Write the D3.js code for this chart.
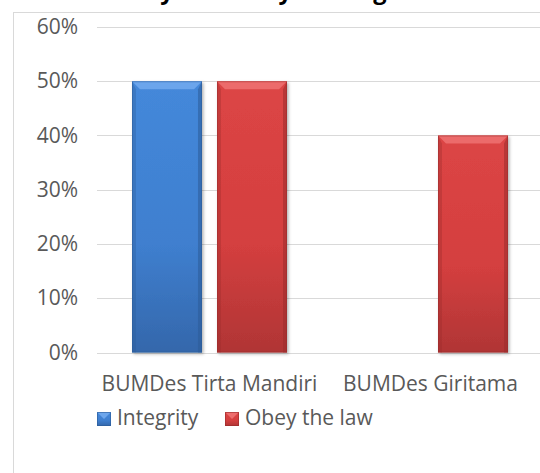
<!DOCTYPE html>
<html>
<head>
<meta charset="utf-8">
<script src="https://cdn.jsdelivr.net/npm/d3@7"></script>
<style>
  html, body { margin: 0; padding: 0; background: #fff; overflow: hidden; }
  svg { display: block; font-family: "Open Sans", "DejaVu Sans", sans-serif; }
</style>
</head>
<body>
<svg id="chart" width="540" height="473"></svg>
<script>
// data
const categories = ["BUMDes Tirta Mandiri", "BUMDes Giritama"];
const seriesNames = ["Integrity", "Obey the law"];
const integrity = [0.5, null];
const obeyLaw = [0.5, 0.4];
const yTicks = [0, 0.1, 0.2, 0.3, 0.4, 0.5, 0.6];
const title = "Honesty and Obey the Regulations";

const COLORS = {
  "Integrity":    { top: "#4488da", mid: "#3f7fcf", bot: "#3467ab", light: "#72aaee", dark: "#2c5b98" },
  "Obey the law": { top: "#dc4545", mid: "#d43f3f", bot: "#b03535", light: "#ee7272", dark: "#9a2c2c" }
};

const svg = d3.select("#chart");
const W = 540, H = 473;
const FS = 21;
const plot = { left: 99, right: 541, top: 27, bottom: 352.5 };

// chart area frame (runs off the window on the right and bottom)
svg.append("rect")
  .attr("x", 13.5).attr("y", 12.5).attr("width", 600).attr("height", 600)
  .attr("fill", "#fff").attr("stroke", "#d9d9d9").attr("stroke-width", 1);

// title: in the reference only its descenders reach into the window
const tt = svg.append("text")
  .attr("x", 0).attr("y", -1)
  .attr("font-size", 24).attr("font-weight", "bold").attr("fill", "#000")
  .text(title);
{
  const node = tt.node();
  const mid = i => { const e = node.getExtentOfChar(i); return e.x + e.width / 2; };
  const i1 = title.indexOf("y"), i3 = title.indexOf("g");
  const k = (380 - 167) / (mid(i3) - mid(i1));
  tt.attr("font-size", 24 * k);
  tt.attr("x", 167 - mid(i1));
}

const y = d3.scaleLinear().domain([0, 0.6]).range([plot.bottom, plot.top]);
const x0 = d3.scaleBand().domain(categories).range([plot.left, plot.right]).padding(0);
const x1 = d3.scaleBand().domain(seriesNames).range([33, 188]).paddingInner(0.1765).paddingOuter(0);

// gradients + shadow
const defs = svg.append("defs");
seriesNames.forEach((s, i) => {
  const g = defs.append("linearGradient").attr("id", "grad" + i)
    .attr("x1", 0).attr("y1", 0).attr("x2", 0).attr("y2", 1);
  g.append("stop").attr("offset", "0%").attr("stop-color", COLORS[s].top);
  g.append("stop").attr("offset", "60%").attr("stop-color", COLORS[s].mid);
  g.append("stop").attr("offset", "100%").attr("stop-color", COLORS[s].bot);
});
const shadow = defs.append("filter").attr("id", "shadow")
  .attr("x", "-20%").attr("y", "-20%").attr("width", "140%").attr("height", "140%");
shadow.append("feDropShadow").attr("dx", 1.5).attr("dy", 1.5).attr("stdDeviation", 1.5)
  .attr("flood-color", "#000").attr("flood-opacity", 0.3);

// gridlines
svg.append("g").selectAll("line")
  .data(yTicks).join("line")
  .attr("x1", plot.left - 2).attr("x2", W)
  .attr("y1", d => Math.round(y(d)) + 0.5).attr("y2", d => Math.round(y(d)) + 0.5)
  .attr("stroke", "#d9d9d9").attr("stroke-width", 1);

// y axis labels
const yAxis = d3.axisLeft(y).tickValues(yTicks).tickFormat(d3.format(".0%")).tickSize(0).tickPadding(0);
const gy = svg.append("g").attr("transform", "translate(78,0)").call(yAxis);
gy.select(".domain").remove();
gy.selectAll("text").attr("font-size", FS).attr("fill", "#595959")
  .attr("font-family", "'Open Sans', sans-serif");

// bars
const rows = categories.map((c, i) => ({ cat: c, values: [
  { s: seriesNames[0], v: integrity[i] },
  { s: seriesNames[1], v: obeyLaw[i] }
].filter(d => d.v != null) }));

const bev = 8;
const bars = svg.append("g").selectAll("g.cat")
  .data(rows).join("g")
  .attr("transform", d => `translate(${x0(d.cat)},0)`)
  .selectAll("g.bar")
  .data(d => d.values).join("g").attr("class", "bar");

bars.each(function (d) {
  const g = d3.select(this);
  const si = seriesNames.indexOf(d.s);
  const bx = x1(d.s), bw = x1.bandwidth();
  const by = y(d.v), bh = y(0) - y(d.v);
  const c = COLORS[d.s];
  g.append("rect").attr("x", bx).attr("y", by).attr("width", bw).attr("height", bh)
    .attr("fill", `url(#grad${si})`).attr("filter", "url(#shadow)");
  // top bevel
  g.append("path")
    .attr("d", `M${bx},${by}L${bx + bw},${by}L${bx + bw - bev},${by + bev}L${bx + bev},${by + bev}Z`)
    .attr("fill", c.light).attr("opacity", 0.85);
  // side bevels
  g.append("path")
    .attr("d", `M${bx},${by}L${bx + bev * 0.5},${by + bev}L${bx + bev * 0.5},${by + bh}L${bx},${by + bh}Z`)
    .attr("fill", c.dark).attr("opacity", 0.35);
  g.append("path")
    .attr("d", `M${bx + bw},${by}L${bx + bw - bev * 0.5},${by + bev}L${bx + bw - bev * 0.5},${by + bh}L${bx + bw},${by + bh}Z`)
    .attr("fill", c.dark).attr("opacity", 0.55);
  g.append("rect").attr("x", bx + 0.5).attr("y", by + 0.5).attr("width", bw - 1).attr("height", bh - 1)
    .attr("fill", "none").attr("stroke", c.dark).attr("stroke-opacity", 0.5);
});

// category labels
svg.append("g").selectAll("text")
  .data(categories).join("text")
  .attr("x", d => x0(d) + x0.bandwidth() / 2)
  .attr("y", 391)
  .attr("text-anchor", "middle")
  .attr("font-size", FS).attr("fill", "#595959")
  .text(d => d);

// legend
const legendX = [97, 225];
const lg = svg.append("g").selectAll("g")
  .data(seriesNames).join("g")
  .attr("transform", (d, i) => `translate(${legendX[i]},412)`);
lg.append("rect").attr("width", 14).attr("height", 14)
  .attr("fill", (d, i) => `url(#grad${i})`);
lg.append("path").attr("d", "M0,0L14,0L7,7Z").attr("fill", d => COLORS[d].light).attr("opacity", 0.9);
lg.append("rect").attr("x", 0.5).attr("y", 0.5).attr("width", 13).attr("height", 13)
  .attr("fill", "none").attr("stroke", d => COLORS[d].dark).attr("stroke-opacity", 0.6);
lg.append("text").attr("x", 20).attr("y", 13)
  .attr("font-size", FS).attr("fill", "#595959")
  .text(d => d);
</script>
</body>
</html>
